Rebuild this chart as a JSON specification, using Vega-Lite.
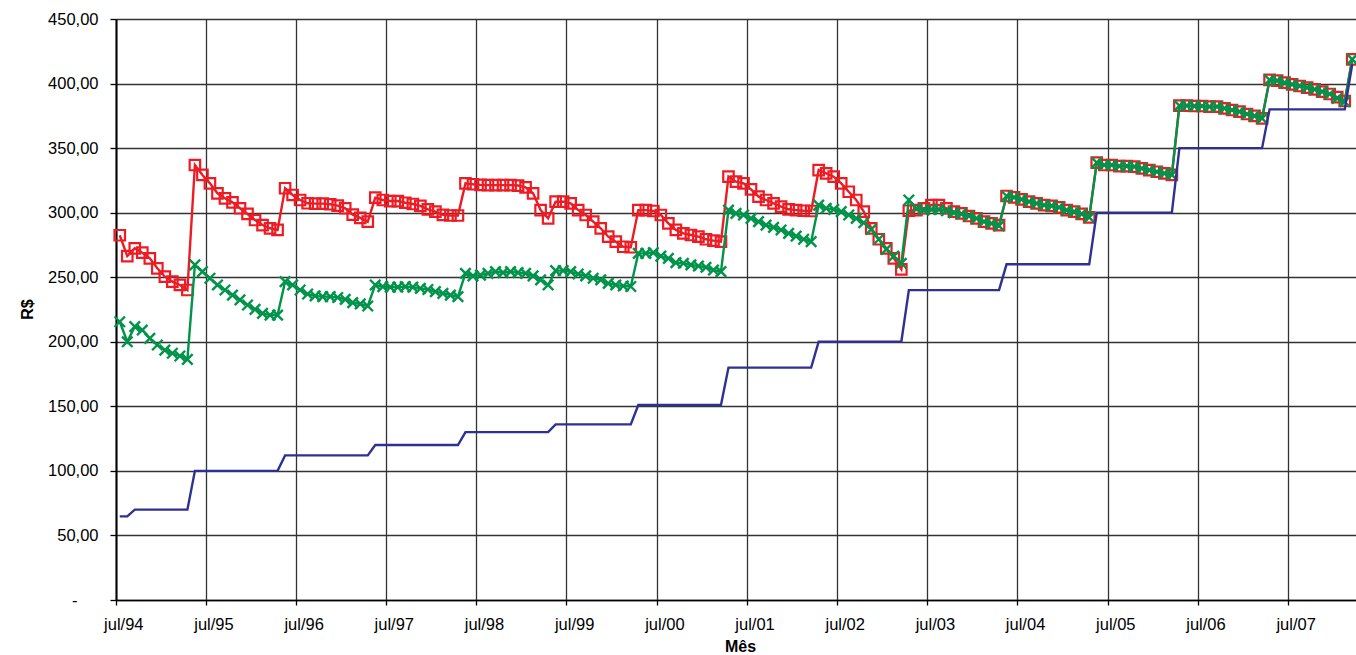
{
  "$schema": "https://vega.github.io/schema/vega-lite/v6.json",
  "width": 1240,
  "height": 581,
  "autosize": {"type": "none"},
  "padding": {"left": 116, "top": 19, "right": 0, "bottom": 55},
  "background": "white",
  "config": {"view": {"stroke": null}, "font": "Liberation Sans"},
  "data": {"values": [
    {"mes":"jul/94","nominal":64.79,"inpc":282.5,"ipca":215.5},
    {"mes":"ago/94","nominal":64.79,"inpc":266.4,"ipca":200.0},
    {"mes":"set/94","nominal":70,"inpc":272.4,"ipca":211.7},
    {"mes":"out/94","nominal":70,"inpc":269.0,"ipca":209.1},
    {"mes":"nov/94","nominal":70,"inpc":264.6,"ipca":202.7},
    {"mes":"dez/94","nominal":70,"inpc":256.9,"ipca":197.5},
    {"mes":"jan/95","nominal":70,"inpc":250.4,"ipca":193.6},
    {"mes":"fev/95","nominal":70,"inpc":246.6,"ipca":191.1},
    {"mes":"mar/95","nominal":70,"inpc":244.0,"ipca":189.0},
    {"mes":"abr/95","nominal":70,"inpc":240.1,"ipca":186.4},
    {"mes":"mai/95","nominal":100,"inpc":336.9,"ipca":259.5},
    {"mes":"jun/95","nominal":100,"inpc":329.2,"ipca":254.3},
    {"mes":"jul/95","nominal":100,"inpc":322.7,"ipca":249.2},
    {"mes":"ago/95","nominal":100,"inpc":315.0,"ipca":244.0},
    {"mes":"set/95","nominal":100,"inpc":311.1,"ipca":240.1},
    {"mes":"out/95","nominal":100,"inpc":308.0,"ipca":236.2},
    {"mes":"nov/95","nominal":100,"inpc":303.4,"ipca":232.4},
    {"mes":"dez/95","nominal":100,"inpc":299.0,"ipca":228.5},
    {"mes":"jan/96","nominal":100,"inpc":294.3,"ipca":225.1},
    {"mes":"fev/96","nominal":100,"inpc":290.4,"ipca":222.0},
    {"mes":"mar/96","nominal":100,"inpc":287.9,"ipca":220.7},
    {"mes":"abr/96","nominal":100,"inpc":286.6,"ipca":220.7},
    {"mes":"mai/96","nominal":112,"inpc":318.9,"ipca":246.6},
    {"mes":"jun/96","nominal":112,"inpc":313.7,"ipca":244.0},
    {"mes":"jul/96","nominal":112,"inpc":309.8,"ipca":240.1},
    {"mes":"ago/96","nominal":112,"inpc":307.3,"ipca":237.0},
    {"mes":"set/96","nominal":112,"inpc":307.0,"ipca":235.5},
    {"mes":"out/96","nominal":112,"inpc":307.0,"ipca":235.0},
    {"mes":"nov/96","nominal":112,"inpc":306.5,"ipca":235.0},
    {"mes":"dez/96","nominal":112,"inpc":305.5,"ipca":234.3},
    {"mes":"jan/97","nominal":112,"inpc":303.4,"ipca":232.9},
    {"mes":"fev/97","nominal":112,"inpc":298.5,"ipca":230.3},
    {"mes":"mar/97","nominal":112,"inpc":296.0,"ipca":229.3},
    {"mes":"abr/97","nominal":112,"inpc":293.0,"ipca":227.7},
    {"mes":"mai/97","nominal":120,"inpc":311.6,"ipca":244.0},
    {"mes":"jun/97","nominal":120,"inpc":309.8,"ipca":242.7},
    {"mes":"jul/97","nominal":120,"inpc":309.0,"ipca":242.3},
    {"mes":"ago/97","nominal":120,"inpc":309.0,"ipca":242.3},
    {"mes":"set/97","nominal":120,"inpc":307.7,"ipca":242.7},
    {"mes":"out/97","nominal":120,"inpc":306.7,"ipca":242.3},
    {"mes":"nov/97","nominal":120,"inpc":305.2,"ipca":241.4},
    {"mes":"dez/97","nominal":120,"inpc":302.6,"ipca":240.5},
    {"mes":"jan/98","nominal":120,"inpc":300.8,"ipca":238.8},
    {"mes":"fev/98","nominal":120,"inpc":298.3,"ipca":237.5},
    {"mes":"mar/98","nominal":120,"inpc":297.8,"ipca":236.2},
    {"mes":"abr/98","nominal":120,"inpc":297.8,"ipca":235.0},
    {"mes":"mai/98","nominal":130,"inpc":322.7,"ipca":253.0},
    {"mes":"jun/98","nominal":130,"inpc":322.0,"ipca":251.0},
    {"mes":"jul/98","nominal":130,"inpc":321.5,"ipca":251.6},
    {"mes":"ago/98","nominal":130,"inpc":321.3,"ipca":253.0},
    {"mes":"set/98","nominal":130,"inpc":321.3,"ipca":254.3},
    {"mes":"out/98","nominal":130,"inpc":321.3,"ipca":253.5},
    {"mes":"nov/98","nominal":130,"inpc":321.3,"ipca":254.3},
    {"mes":"dez/98","nominal":130,"inpc":321.0,"ipca":253.5},
    {"mes":"jan/99","nominal":130,"inpc":319.6,"ipca":253.0},
    {"mes":"fev/99","nominal":130,"inpc":315.0,"ipca":251.0},
    {"mes":"mar/99","nominal":130,"inpc":302.0,"ipca":247.9},
    {"mes":"abr/99","nominal":130,"inpc":295.6,"ipca":244.0},
    {"mes":"mai/99","nominal":136,"inpc":308.5,"ipca":255.1},
    {"mes":"jun/99","nominal":136,"inpc":308.5,"ipca":255.1},
    {"mes":"jul/99","nominal":136,"inpc":307.2,"ipca":254.3},
    {"mes":"ago/99","nominal":136,"inpc":302.0,"ipca":252.5},
    {"mes":"set/99","nominal":136,"inpc":298.2,"ipca":251.0},
    {"mes":"out/99","nominal":136,"inpc":293.0,"ipca":249.2},
    {"mes":"nov/99","nominal":136,"inpc":287.9,"ipca":247.9},
    {"mes":"dez/99","nominal":136,"inpc":281.4,"ipca":245.3},
    {"mes":"jan/00","nominal":136,"inpc":277.5,"ipca":244.0},
    {"mes":"fev/00","nominal":136,"inpc":273.6,"ipca":243.2},
    {"mes":"mar/00","nominal":136,"inpc":273.2,"ipca":242.8},
    {"mes":"abr/00","nominal":151,"inpc":302.0,"ipca":268.5},
    {"mes":"mai/00","nominal":151,"inpc":302.0,"ipca":268.5},
    {"mes":"jun/00","nominal":151,"inpc":301.3,"ipca":269.0},
    {"mes":"jul/00","nominal":151,"inpc":298.2,"ipca":266.4},
    {"mes":"ago/00","nominal":151,"inpc":291.7,"ipca":264.6},
    {"mes":"set/00","nominal":151,"inpc":286.6,"ipca":261.3},
    {"mes":"out/00","nominal":151,"inpc":284.0,"ipca":260.8},
    {"mes":"nov/00","nominal":151,"inpc":282.7,"ipca":259.5},
    {"mes":"dez/00","nominal":151,"inpc":281.4,"ipca":258.7},
    {"mes":"jan/01","nominal":151,"inpc":279.4,"ipca":257.7},
    {"mes":"fev/01","nominal":151,"inpc":278.3,"ipca":255.6},
    {"mes":"mar/01","nominal":151,"inpc":277.5,"ipca":254.3},
    {"mes":"abr/01","nominal":180,"inpc":327.9,"ipca":302.0},
    {"mes":"mai/01","nominal":180,"inpc":324.0,"ipca":299.5},
    {"mes":"jun/01","nominal":180,"inpc":322.7,"ipca":298.2},
    {"mes":"jul/01","nominal":180,"inpc":318.1,"ipca":295.6},
    {"mes":"ago/01","nominal":180,"inpc":312.4,"ipca":293.0},
    {"mes":"set/01","nominal":180,"inpc":309.8,"ipca":290.4},
    {"mes":"out/01","nominal":180,"inpc":307.2,"ipca":288.6},
    {"mes":"nov/01","nominal":180,"inpc":304.7,"ipca":286.6},
    {"mes":"dez/01","nominal":180,"inpc":302.6,"ipca":284.0},
    {"mes":"jan/02","nominal":180,"inpc":302.0,"ipca":281.9},
    {"mes":"fev/02","nominal":180,"inpc":301.5,"ipca":279.4},
    {"mes":"mar/02","nominal":180,"inpc":301.3,"ipca":277.5},
    {"mes":"abr/02","nominal":200,"inpc":333.0,"ipca":305.9},
    {"mes":"mai/02","nominal":200,"inpc":330.5,"ipca":303.4},
    {"mes":"jun/02","nominal":200,"inpc":327.9,"ipca":302.6},
    {"mes":"jul/02","nominal":200,"inpc":322.7,"ipca":300.8},
    {"mes":"ago/02","nominal":200,"inpc":316.2,"ipca":298.2},
    {"mes":"set/02","nominal":200,"inpc":309.8,"ipca":295.6},
    {"mes":"out/02","nominal":200,"inpc":300.8,"ipca":292.2},
    {"mes":"nov/02","nominal":200,"inpc":287.9,"ipca":287.1},
    {"mes":"dez/02","nominal":200,"inpc":279.4,"ipca":279.4},
    {"mes":"jan/03","nominal":200,"inpc":272.4,"ipca":271.6},
    {"mes":"fev/03","nominal":200,"inpc":264.6,"ipca":266.4},
    {"mes":"mar/03","nominal":200,"inpc":256.1,"ipca":260.8},
    {"mes":"abr/03","nominal":240,"inpc":301.5,"ipca":309.8},
    {"mes":"mai/03","nominal":240,"inpc":302.0,"ipca":303.4},
    {"mes":"jun/03","nominal":240,"inpc":303.4,"ipca":302.0},
    {"mes":"jul/03","nominal":240,"inpc":305.9,"ipca":302.6},
    {"mes":"ago/03","nominal":240,"inpc":305.9,"ipca":302.6},
    {"mes":"set/03","nominal":240,"inpc":303.4,"ipca":301.5},
    {"mes":"out/03","nominal":240,"inpc":300.8,"ipca":300.0},
    {"mes":"nov/03","nominal":240,"inpc":299.5,"ipca":299.0},
    {"mes":"dez/03","nominal":240,"inpc":297.4,"ipca":297.4},
    {"mes":"jan/04","nominal":240,"inpc":295.6,"ipca":295.6},
    {"mes":"fev/04","nominal":240,"inpc":293.0,"ipca":293.0},
    {"mes":"mar/04","nominal":240,"inpc":291.7,"ipca":291.7},
    {"mes":"abr/04","nominal":240,"inpc":290.4,"ipca":289.7},
    {"mes":"mai/04","nominal":260,"inpc":312.9,"ipca":312.9},
    {"mes":"jun/04","nominal":260,"inpc":311.9,"ipca":311.9},
    {"mes":"jul/04","nominal":260,"inpc":310.3,"ipca":310.3},
    {"mes":"ago/04","nominal":260,"inpc":308.5,"ipca":308.5},
    {"mes":"set/04","nominal":260,"inpc":307.2,"ipca":307.2},
    {"mes":"out/04","nominal":260,"inpc":305.9,"ipca":305.9},
    {"mes":"nov/04","nominal":260,"inpc":305.2,"ipca":305.2},
    {"mes":"dez/04","nominal":260,"inpc":304.1,"ipca":304.1},
    {"mes":"jan/05","nominal":260,"inpc":302.0,"ipca":302.0},
    {"mes":"fev/05","nominal":260,"inpc":300.8,"ipca":300.8},
    {"mes":"mar/05","nominal":260,"inpc":299.0,"ipca":299.0},
    {"mes":"abr/05","nominal":260,"inpc":296.4,"ipca":296.4},
    {"mes":"mai/05","nominal":300,"inpc":338.7,"ipca":338.7},
    {"mes":"jun/05","nominal":300,"inpc":336.9,"ipca":336.9},
    {"mes":"jul/05","nominal":300,"inpc":336.9,"ipca":336.9},
    {"mes":"ago/05","nominal":300,"inpc":336.1,"ipca":336.1},
    {"mes":"set/05","nominal":300,"inpc":336.1,"ipca":336.1},
    {"mes":"out/05","nominal":300,"inpc":335.6,"ipca":335.6},
    {"mes":"nov/05","nominal":300,"inpc":334.3,"ipca":334.3},
    {"mes":"dez/05","nominal":300,"inpc":333.0,"ipca":333.0},
    {"mes":"jan/06","nominal":300,"inpc":331.7,"ipca":331.7},
    {"mes":"fev/06","nominal":300,"inpc":330.5,"ipca":330.5},
    {"mes":"mar/06","nominal":300,"inpc":329.2,"ipca":329.2},
    {"mes":"abr/06","nominal":350,"inpc":382.9,"ipca":382.9},
    {"mes":"mai/06","nominal":350,"inpc":382.9,"ipca":382.9},
    {"mes":"jun/06","nominal":350,"inpc":382.6,"ipca":382.6},
    {"mes":"jul/06","nominal":350,"inpc":382.6,"ipca":382.6},
    {"mes":"ago/06","nominal":350,"inpc":382.1,"ipca":382.1},
    {"mes":"set/06","nominal":350,"inpc":382.1,"ipca":382.1},
    {"mes":"out/06","nominal":350,"inpc":380.8,"ipca":380.8},
    {"mes":"nov/06","nominal":350,"inpc":379.5,"ipca":379.5},
    {"mes":"dez/06","nominal":350,"inpc":378.2,"ipca":378.2},
    {"mes":"jan/07","nominal":350,"inpc":376.4,"ipca":376.4},
    {"mes":"fev/07","nominal":350,"inpc":374.9,"ipca":374.9},
    {"mes":"mar/07","nominal":350,"inpc":373.1,"ipca":373.1},
    {"mes":"abr/07","nominal":380,"inpc":402.8,"ipca":402.8},
    {"mes":"mai/07","nominal":380,"inpc":402.2,"ipca":402.2},
    {"mes":"jun/07","nominal":380,"inpc":400.7,"ipca":400.7},
    {"mes":"jul/07","nominal":380,"inpc":399.4,"ipca":399.4},
    {"mes":"ago/07","nominal":380,"inpc":398.1,"ipca":398.1},
    {"mes":"set/07","nominal":380,"inpc":396.8,"ipca":396.8},
    {"mes":"out/07","nominal":380,"inpc":395.5,"ipca":395.5},
    {"mes":"nov/07","nominal":380,"inpc":393.7,"ipca":393.7},
    {"mes":"dez/07","nominal":380,"inpc":391.9,"ipca":391.9},
    {"mes":"jan/08","nominal":380,"inpc":389.5,"ipca":388.5},
    {"mes":"fev/08","nominal":380,"inpc":386.5,"ipca":385.9},
    {"mes":"mar/08","nominal":415,"inpc":418.8,"ipca":418.8}
  ]},
  "transform": [{"fold": ["nominal", "inpc", "ipca"], "as": ["serie", "valor"]}],
  "encoding": {
    "x": {
      "field": "mes", "type": "ordinal", "sort": null,
      "scale": {"type": "band", "paddingInner": 0, "paddingOuter": 0},
      "axis": {
        "values": ["jul/94","jul/95","jul/96","jul/97","jul/98","jul/99","jul/00","jul/01","jul/02","jul/03","jul/04","jul/05","jul/06","jul/07"],
        "bandPosition": 0,
        "labelOffset": 4,
        "labelAngle": 0,
        "labelFontSize": 16.5,
        "labelColor": "#000",
        "labelPadding": 11,
        "grid": true,
        "gridColor": "#333",
        "gridWidth": 1.3,
        "domainColor": "#000",
        "domainWidth": 1.5,
        "tickColor": "#000",
        "tickSize": 5,
        "tickWidth": 1.3,
        "title": "Mês",
        "titleFontSize": 16,
        "titleFontWeight": "bold",
        "titleColor": "#000",
        "titleX": 624,
        "titleY": 51,
        "titleAlign": "center",
        "titleBaseline": "alphabetic"
      }
    },
    "y": {
      "field": "valor", "type": "quantitative",
      "scale": {"domain": [0, 450], "nice": false, "zero": true},
      "axis": {
        "values": [0, 50, 100, 150, 200, 250, 300, 350, 400, 450],
        "labelExpr": "datum.value == 0 ? '-' : replace(format(datum.value, '.2f'), '.', ',')",
        "labelFontSize": 16.5,
        "labelColor": "#000",
        "labelPadding": {"condition": {"test": "datum.value == 0", "value": 33}, "value": 12},
        "grid": true,
        "gridColor": "#333",
        "gridWidth": 1.3,
        "domainColor": "#000",
        "domainWidth": 2,
        "tickColor": "#000",
        "tickSize": 6,
        "tickWidth": 1.3,
        "title": "R$",
        "titleFontSize": 16,
        "titleFontWeight": "bold",
        "titleColor": "#000",
        "titleAngle": -90,
        "titleX": -89,
        "titleY": 290,
        "titleAlign": "center",
        "titleBaseline": "middle"
      }
    }
  },
  "layer": [
    {
      "transform": [{"filter": "datum.serie == 'inpc'"}],
      "mark": {"type": "line", "color": "#ED1C24", "strokeWidth": 2.4}
    },
    {
      "transform": [{"filter": "datum.serie == 'inpc'"}],
      "mark": {"type": "point", "shape": "square", "filled": false, "color": "#ED1C24", "size": 110, "strokeWidth": 2.2, "opacity": 1}
    },
    {
      "transform": [{"filter": "datum.serie == 'ipca'"}],
      "mark": {"type": "line", "color": "#00944A", "strokeWidth": 2.4}
    },
    {
      "transform": [{"filter": "datum.serie == 'ipca'"}],
      "mark": {"type": "point", "shape": "M-1,-1L1,1M-1,1L1,-1", "filled": false, "color": "#00944A", "size": 110, "strokeWidth": 2.4, "opacity": 1}
    },
    {
      "transform": [{"filter": "datum.serie == 'nominal'"}],
      "mark": {"type": "line", "color": "#2E3192", "strokeWidth": 2.4}
    }
  ]
}
